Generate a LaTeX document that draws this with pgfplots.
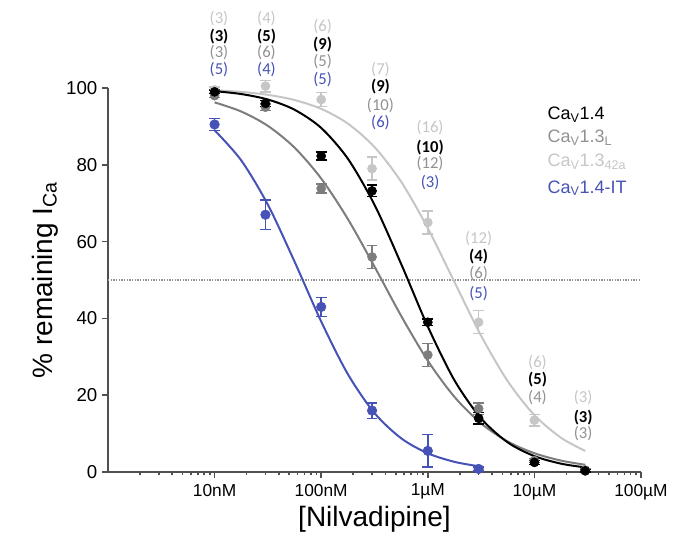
\documentclass[border=0pt]{standalone}
\usepackage{fontspec}
\setmainfont{Liberation Sans}
\newfontfamily\calib{Carlito}
\usepackage{pgfplots}
\pgfplotsset{compat=1.18}
\definecolor{lgray}{RGB}{198,198,198}
\definecolor{mgray}{RGB}{125,125,125}
\definecolor{cblue}{RGB}{70,82,182}
\definecolor{axgray}{RGB}{80,80,80}
\definecolor{lblgray}{RGB}{145,145,145}
\begin{document}
\begin{tikzpicture}
\useasboundingbox (-81pt,-54pt) rectangle (435pt,354pt);
\begin{axis}[
  at={(0,0)}, anchor=south west,
  scale only axis, width=399.75pt, height=288pt,
  xmode=log, xmin=1e-9, xmax=1e-4, ymin=0, ymax=100,
  axis x line=bottom, axis y line=left,
  axis line style={-, axgray, line width=1.2pt},
  every tick/.style={axgray, line width=1.2pt},
  tick align=outside,
  major tick length=4.5pt, minor tick length=2.5pt,
  xtick={1e-8,1e-7,1e-6,1e-5,1e-4},
  minor xtick={2e-9,3e-9,4e-9,5e-9,6e-9,7e-9,8e-9,9e-9,
    2e-8,3e-8,4e-8,5e-8,6e-8,7e-8,8e-8,9e-8,
    2e-7,3e-7,4e-7,5e-7,6e-7,7e-7,8e-7,9e-7,
    2e-6,3e-6,4e-6,5e-6,6e-6,7e-6,8e-6,9e-6,
    2e-5,3e-5,4e-5,5e-5,6e-5,7e-5,8e-5,9e-5},
  xticklabels={10nM,100nM,1µM,10µM,100µM},
  ytick={0,20,40,60,80,100},
  /pgf/number format/assume math mode=true,
  x tick label style={font=\fontsize{13}{13}\selectfont, yshift=-1pt},
  y tick label style={font=\fontsize{14}{14}\selectfont},
  xlabel={[Nilvadipine]},
  ylabel={\% remaining I\textsubscript{Ca}},
  xlabel style={font=\fontsize{21}{21}\selectfont, yshift=2pt},
  ylabel style={font=\fontsize{21}{21}\selectfont, yshift=-1pt},
  clip=false,
  error bars/error bar style={line width=1.1pt},
  error bars/error mark options={rotate=90, mark size=4pt, line width=1.1pt},
]
% 50% line
\addplot[lblgray, densely dotted, line width=1pt] coordinates {(1e-9,50) (1e-4,50)};

% Cav1.3_42a (light gray)
\addplot[lgray, line width=1.5pt, smooth] coordinates {
(1e-8,99.43) (1.778e-8,98.99) (3.162e-8,98.22) (5.623e-8,96.87) (1e-7,94.57)
(1.778e-7,90.74) (3.162e-7,84.63) (5.623e-7,75.6) (1e-6,63.5) (1.778e-6,49.5)
(3.162e-6,35.5) (5.623e-6,23.65) (1e-5,14.83) (1.778e-5,8.92) (3e-5,5.49)};
\addplot[lgray, only marks, mark=*, mark size=3.4pt,
  error bars/.cd, y dir=both, y explicit] coordinates {
(1e-8,99.5) +- (0,0.8) (3e-8,100.5) +- (0,1.5) (1e-7,97) +- (0,1.8)
(3e-7,79) +- (0,3) (1e-6,65) +- (0,3) (3e-6,39) +- (0,3) (1e-5,13.5) +- (0,1.5)};

% Cav1.3L (mid gray)
\addplot[mgray, line width=1.5pt, smooth] coordinates {
(1e-8,96.26) (1.778e-8,93.88) (3.162e-8,90.14) (5.623e-8,84.48) (1e-7,76.43)
(1.778e-7,65.89) (3.162e-7,53.5) (5.623e-7,40.67) (1e-6,28.99) (1.778e-6,19.57)
(3.162e-6,12.66) (5.623e-6,7.94) (1e-5,4.89) (1.778e-5,2.97) (3e-5,1.88)};
\addplot[mgray, only marks, mark=*, mark size=3.4pt,
  error bars/.cd, y dir=both, y explicit] coordinates {
(1e-8,98) +- (0,0.5) (3e-8,95) +- (0,0.8) (1e-7,73.8) +- (0,1.2)
(3e-7,56) +- (0,3) (1e-6,30.5) +- (0,3) (3e-6,16.5) +- (0,1.5)
(1e-5,3) +- (0,0.5) (3e-5,0.5) +- (0,0.3)};

% Cav1.4 (black)
\addplot[black, line width=1.5pt, smooth] coordinates {
(1e-8,99.18) (1.778e-8,98.43) (3.162e-8,97.0) (5.623e-8,94.34) (1e-7,89.6)
(1.778e-7,81.6) (3.162e-7,69.6) (5.623e-7,54.2) (1e-6,37.9) (1.778e-6,23.9)
(3.162e-6,13.96) (5.623e-6,7.71) (1e-5,4.14) (1.778e-5,2.17) (3e-5,1.2)};
\addplot[black, only marks, mark=*, mark size=3.4pt,
  error bars/.cd, y dir=both, y explicit] coordinates {
(1e-8,99) +- (0,0.5) (3e-8,96) +- (0,0.8) (1e-7,82.3) +- (0,1)
(3e-7,73.2) +- (0,1.5) (1e-6,39) +- (0,0.8) (3e-6,14) +- (0,1.5)
(1e-5,2.5) +- (0,0.5) (3e-5,0.3) +- (0,0.3)};

% Cav1.4-IT (blue)
\addplot[cblue, line width=1.5pt, smooth] coordinates {
(1e-8,89.0) (1.778e-8,81.15) (3.162e-8,69.6) (5.623e-8,54.8) (1e-7,39.2)
(1.778e-7,25.5) (3.162e-7,15.36) (5.623e-7,8.79) (1e-6,4.87) (1.778e-6,2.65)
(3e-6,1.5)};
\addplot[cblue, only marks, mark=*, mark size=3.6pt,
  error bars/.cd, y dir=both, y explicit] coordinates {
(1e-8,90.5) +- (0,1.5) (3e-8,67) +- (0,3.8) (1e-7,43) +- (0,2.5)
(3e-7,16) +- (0,2) (1e-6,5.5) +- (0,4.2) (3e-6,0.8) +- (0,0.5)};

% n labels
\begin{scope}[every node/.style={font=\calib\fontsize{12.5}{12.5}\selectfont, inner sep=0pt},
  bk/.style={black, font=\calib\bfseries\fontsize{12.5}{12.5}\selectfont}]
\node[lgray] at (axis cs:1.1e-8,118.0) {(3)};
\node[bk] at (axis cs:1.1e-8,113.5) {(3)};
\node[lblgray] at (axis cs:1.1e-8,109.1) {(3)};
\node[cblue] at (axis cs:1.1e-8,104.7) {(5)};
\node[lgray] at (axis cs:3.07e-8,118.0) {(4)};
\node[bk] at (axis cs:3.07e-8,113.5) {(5)};
\node[lblgray] at (axis cs:3.07e-8,109.1) {(6)};
\node[cblue] at (axis cs:3.07e-8,104.7) {(4)};
\node[lgray] at (axis cs:1.03e-7,115.9) {(6)};
\node[bk] at (axis cs:1.03e-7,111.2) {(9)};
\node[lblgray] at (axis cs:1.03e-7,106.8) {(5)};
\node[cblue] at (axis cs:1.03e-7,102.3) {(5)};
\node[lgray] at (axis cs:3.6e-7,104.9) {(7)};
\node[bk] at (axis cs:3.6e-7,100.3) {(9)};
\node[lblgray] at (axis cs:3.6e-7,95.3) {(10)};
\node[cblue] at (axis cs:3.6e-7,90.9) {(6)};
\node[lgray] at (axis cs:1.05e-6,89.6) {(16)};
\node[bk] at (axis cs:1.05e-6,84.6) {(10)};
\node[lblgray] at (axis cs:1.05e-6,80.2) {(12)};
\node[cblue] at (axis cs:1.05e-6,75.5) {(3)};
\node[lgray] at (axis cs:3e-6,60.7) {(12)};
\node[bk] at (axis cs:3e-6,56.0) {(4)};
\node[lblgray] at (axis cs:3e-6,51.8) {(6)};
\node[cblue] at (axis cs:3e-6,46.6) {(5)};
\node[lgray] at (axis cs:1.07e-5,28.6) {(6)};
\node[bk] at (axis cs:1.07e-5,24.0) {(5)};
\node[lblgray] at (axis cs:1.07e-5,19.3) {(4)};
\node[lgray] at (axis cs:2.87e-5,19.3) {(3)};
\node[bk] at (axis cs:2.87e-5,14.3) {(3)};
\node[lblgray] at (axis cs:2.87e-5,9.9) {(3)};
\end{scope}

% legend text
\begin{scope}[every node/.style={font=\fontsize{13.5}{13.5}\selectfont, anchor=west, inner sep=0pt}]
\node[black] at (axis cs:1.32e-5,93.0) {Ca\textsubscript{V}1.4};
\node[lblgray] at (axis cs:1.32e-5,87.0) {Ca\textsubscript{V}1.3\textsubscript{L}};
\node[lgray] at (axis cs:1.32e-5,80.7) {Ca\textsubscript{V}1.3\textsubscript{42a}};
\node[cblue] at (axis cs:1.32e-5,73.9) {Ca\textsubscript{V}1.4-IT};
\end{scope}
\end{axis}
\end{tikzpicture}
\end{document}
